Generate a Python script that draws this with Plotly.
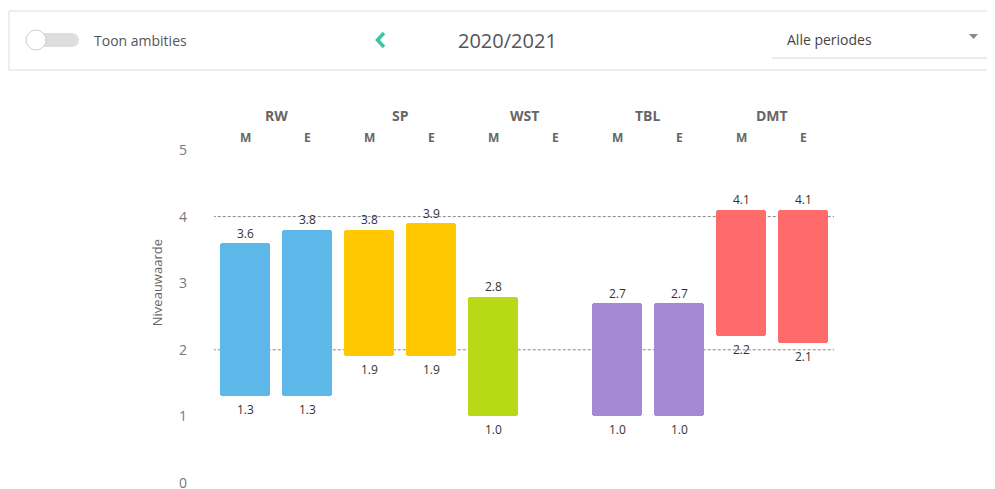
import plotly.graph_objects as go

groups = ["RW", "SP", "WST", "TBL", "DMT"]
subs = ["M", "E"]
colors = ["#5db7e8", "#ffc800", "#b8d916", "#a689d4", "#ff6b6b"]
low_vals = [1.3, 1.3, 1.9, 1.9, 1.0, None, 1.0, 1.0, 2.2, 2.1]
high_vals = [3.6, 3.8, 3.8, 3.9, 2.8, None, 2.7, 2.7, 4.1, 4.1]
y_ticks = [0, 1, 2, 3, 4, 5]
ref_lines = [2, 4]

# page body has an 8px margin: figure coordinates = screen coordinates - 8
OFF = 8
W, H = 995 - OFF, 489 - OFF
L, R, T, B = 214 - OFF, 834 - OFF, 150 - OFF, 483 - OFF

def px(x):  # screen x -> paper
    return (x - OFF - L) / (R - L)

def py(y):  # screen y -> paper
    return (B - (y - OFF)) / (B - T)

xs, bases, tops, heights, cols = [], [], [], [], []
for i, (lo, hi) in enumerate(zip(low_vals, high_vals)):
    if lo is None:
        continue
    xs.append(i)
    bases.append(lo)
    tops.append(hi)
    heights.append(round(hi - lo, 3))
    cols.append(colors[i // 2])

fig = go.Figure()
fig.add_trace(go.Bar(x=xs, y=heights, base=bases, marker=dict(color=cols, line=dict(width=0)),
                     width=0.82, hoverinfo="skip"))

ann = []
for x, b, t in zip(xs, bases, tops):
    ann.append(dict(x=x, y=t, xref="x", yref="y", text=f"{t:.1f}", showarrow=False, yshift=10,
                    font=dict(family="Open Sans", size=12, color="#333"), yanchor="middle"))
    ann.append(dict(x=x, y=b, xref="x", yref="y", text=f"{b:.1f}", showarrow=False, yshift=-13,
                    font=dict(family="Open Sans", size=12, color="#333"), yanchor="middle"))

shapes = []
for v in ref_lines:
    shapes.append(dict(type="line", xref="x", yref="y", x0=-0.52, x1=9.52, y0=v, y1=v,
                       line=dict(color="#888", width=1, dash="3px,2px"), layer="below"))

# toolbar
shapes.append(dict(type="rect", xref="paper", yref="paper", x0=px(9), x1=px(993), y0=py(70), y1=py(11),
                   line=dict(color="#dcdcdc", width=1), fillcolor="white"))
# toggle track
shapes.append(dict(type="rect", xref="paper", yref="paper", x0=px(34), x1=px(72), y0=py(47), y1=py(33),
                   line=dict(width=0), fillcolor="#dedede"))
shapes.append(dict(type="circle", xref="paper", yref="paper", x0=px(65), x1=px(79), y0=py(47), y1=py(33),
                   line=dict(width=0), fillcolor="#dedede"))
shapes.append(dict(type="circle", xref="paper", yref="paper", x0=px(26), x1=px(46), y0=py(50), y1=py(30),
                   line=dict(color="#cfcfcf", width=1), fillcolor="white"))
# chevron
shapes.append(dict(type="path", xref="paper", yref="paper",
                   path=f"M {px(384)} {py(33)} L {px(377.5)} {py(40)} L {px(384)} {py(47)}",
                   line=dict(color="#3cc4a4", width=3.5)))
# dropdown underline and triangle
shapes.append(dict(type="line", xref="paper", yref="paper", x0=px(772), x1=px(990), y0=py(58), y1=py(58),
                   line=dict(color="#d8d8d8", width=1)))
shapes.append(dict(type="path", xref="paper", yref="paper",
                   path=f"M {px(969)} {py(34)} L {px(978)} {py(34)} L {px(973.5)} {py(39)} Z",
                   fillcolor="#888", line=dict(width=0)))

for g_i, g in enumerate(groups):
    ann.append(dict(x=g_i * 2 + 0.5, xref="x", y=py(115), yref="paper", text=f"<b>{g}</b>",
                    showarrow=False, font=dict(family="Open Sans", size=14, color="#666"),
                    xanchor="center", yanchor="middle"))
    for s_i, s in enumerate(subs):
        ann.append(dict(x=g_i * 2 + s_i, xref="x", y=py(137), yref="paper", text=f"<b>{s}</b>",
                        showarrow=False, font=dict(family="Open Sans", size=12, color="#666"),
                        xanchor="center", yanchor="middle"))

ann.append(dict(x=px(157), xref="paper", y=3, yref="y", text="Niveauwaarde", textangle=-90,
                showarrow=False, font=dict(family="Open Sans", size=13, color="#666"),
                xanchor="center", yanchor="middle"))
ann.append(dict(x=px(92), xref="paper", y=py(41), yref="paper", text="Toon ambities", showarrow=False,
                font=dict(family="Open Sans", size=14, color="#555"), xanchor="left", yanchor="middle"))
ann.append(dict(x=px(507), xref="paper", y=py(41), yref="paper", text="2020/2021", showarrow=False,
                font=dict(family="Open Sans", size=20, color="#555"), xanchor="center", yanchor="middle"))
ann.append(dict(x=px(785), xref="paper", y=py(39), yref="paper", text="Alle periodes", showarrow=False,
                font=dict(family="Open Sans", size=14, color="#444"), xanchor="left", yanchor="middle"))

fig.update_layout(
    width=W, height=H,
    margin=dict(l=L, r=W - R, t=T, b=H - B, pad=0, autoexpand=False),
    plot_bgcolor="white", paper_bgcolor="white",
    showlegend=False,
    bargap=0,
    shapes=shapes,
    annotations=ann,
    xaxis=dict(range=[-0.5, 9.5], showticklabels=False, showgrid=False, zeroline=False,
               showline=False, ticks="", fixedrange=True, automargin=False),
    yaxis=dict(range=[0, 5], tickvals=y_ticks, showgrid=False, zeroline=False, showline=False,
               ticklabelstandoff=26, ticklabeloverflow="allow", automargin=False,
               tickfont=dict(family="Open Sans", size=14, color="#777"),
               fixedrange=True),
    barcornerradius=3,
)

fig.write_html("out.html")
